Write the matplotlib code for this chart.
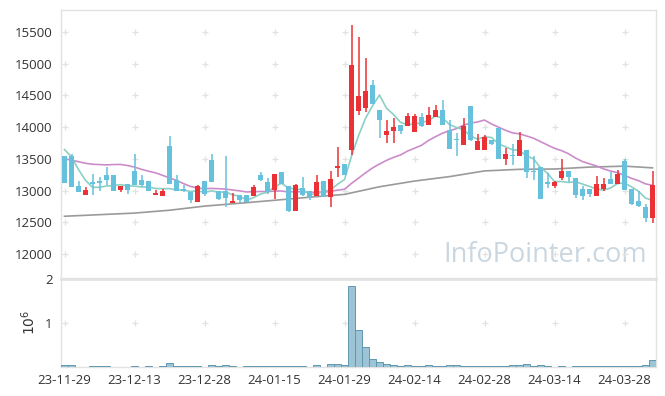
import numpy as np
import matplotlib
matplotlib.use("Agg")
import matplotlib.pyplot as plt

# ---------------- data ----------------
tick_labels = ["23-11-29", "23-12-13", "23-12-28", "24-01-15", "24-01-29",
               "24-02-14", "24-02-28", "24-03-14", "24-03-28"]
tick_pos = [0, 10, 20, 30, 40, 50, 60, 70, 80]

opens = [13541, 13541, 13079, 12932, 13131, 13147, 13252, 13252, 13016, 13110,
         13304, 13162, 13147, 12932, 12916, 13710, 13173, 13026, 12973, 12822,
         13147, 13489, 12990, 12990, 12800, 12937, 12937, 12910, 13252, 13131,
         13016, 13294, 13068, 12674, 13042, 12990, 12910, 13158, 12900, 13352,
         13426, 13647, 14251, 14304, 14662, 14267, 13883, 13935, 14041, 14025,
         13920, 14162, 14041, 14156, 14278, 13962, 13815, 13725, 14340, 13647,
         13647, 13794, 13989, 13505, 13568, 13541, 13636, 13304, 13373, 13131,
         13068, 13200, 13304, 13200, 13026, 13026, 12910, 13026, 13184, 13110,
         13473, 13026, 12831, 12743, 12569]
highs = [13541, 13570, 13147, 13058, 13263, 13220, 13374, 13252, 13079, 13110,
         13570, 13247, 13147, 13016, 13026, 13867, 13247, 13095, 12973, 13090,
         13147, 13583, 12990, 13541, 12963, 12937, 12937, 13090, 13289, 13200,
         13268, 13294, 13068, 13110, 13216, 12990, 13252, 13158, 13304, 13683,
         13426, 15618, 15427, 15093, 14750, 14267, 14120, 14140, 14041, 14225,
         14200, 14225, 14320, 14356, 14435, 14120, 13910, 14146, 14340, 13894,
         13883, 13794, 13989, 13673, 13736, 13920, 13636, 13552, 13373, 13279,
         13150, 13500, 13304, 13200, 13068, 13026, 13237, 13200, 13289, 13331,
         13500, 13026, 12990, 12790, 13304]
lows = [13115, 13052, 12973, 12932, 12937, 12990, 13095, 13000, 12973, 12953,
        13095, 13058, 12990, 12932, 12916, 13100, 12990, 12970, 12806, 12822,
        12921, 13131, 12850, 12743, 12800, 12806, 12816, 12910, 13150, 12948,
        12869, 13110, 12658, 12674, 12920, 12847, 12910, 12900, 12743, 13216,
        13252, 13568, 14198, 14235, 14372, 13831, 13752, 13752, 13894, 14025,
        13920, 14000, 14041, 14156, 14041, 13662, 13541, 13725, 13778, 13647,
        13647, 13720, 13505, 13410, 13410, 13541, 13200, 13173, 12874, 13042,
        13040, 13173, 13131, 12885, 12858, 12900, 12910, 13000, 13110, 13110,
        13016, 12780, 12742, 12500, 12490]
closes = [13115, 13052, 12973, 13005, 13110, 13115, 13162, 13000, 13079, 13016,
          13095, 13095, 12990, 12968, 13000, 13100, 12990, 12990, 12847, 13068,
          12948, 13131, 12869, 12884, 12832, 12847, 12816, 13058, 13173, 12973,
          13268, 13110, 12674, 13095, 12937, 12884, 13137, 12900, 13184, 13394,
          13252, 14987, 14498, 14567, 14372, 14109, 13946, 14004, 13946, 14183,
          14183, 14025, 14199, 14278, 14041, 13662, 13793, 14014, 13804, 13778,
          13847, 13741, 13505, 13583, 13541, 13804, 13289, 13289, 12874, 13110,
          13140, 13304, 13210, 12937, 12921, 12953, 13110, 13110, 13110, 13263,
          13016, 12795, 12763, 12569, 13095]
volumes_m = [0.04, 0.04, 0.003, 0.003, 0.015, 0.015, 0.015, 0.003, 0.003, 0.003,
             0.012, 0.003, 0.012, 0.003, 0.012, 0.078, 0.015, 0.015, 0.015, 0.015,
             0.003, 0.04, 0.015, 0.04, 0.015, 0.003, 0.015, 0.015, 0.015, 0.015,
             0.015, 0.015, 0.015, 0.015, 0.015, 0.003, 0.04, 0.003, 0.055, 0.055,
             0.035, 1.847, 0.833, 0.444, 0.169, 0.10, 0.055, 0.032, 0.012, 0.03,
             0.012, 0.012, 0.03, 0.012, 0.012, 0.03, 0.03, 0.012, 0.012, 0.012,
             0.012, 0.012, 0.012, 0.012, 0.03, 0.03, 0.055, 0.012, 0.03, 0.012,
             0.003, 0.012, 0.003, 0.012, 0.012, 0.012, 0.012, 0.012, 0.012, 0.012,
             0.012, 0.012, 0.012, 0.03, 0.153]

# moving-average values before enough history exists
ma5_head = [13647, 13531, 13331, 13162]
ma20_head = [13500, 13480, 13455, 13430, 13415, 13410, 13405, 13410, 13412, 13395,
             13370, 13335, 13305, 13280, 13240, 13200, 13160, 13110, 13065]
ma60_idx = [0, 5, 10, 15, 20, 25, 30, 35, 40, 45, 50, 55, 60, 65, 70, 75, 80, 84]
ma60_val = [12595, 12620, 12645, 12690, 12755, 12800, 12847, 12895, 12940, 13060,
            13150, 13220, 13310, 13335, 13340, 13370, 13385, 13358]

# ---------------- derived ----------------
o = np.array(opens, float); h = np.array(highs, float)
l = np.array(lows, float); c = np.array(closes, float)
n = len(c)
x = np.arange(n)

def rolling(arr, w, head):
    out = list(head)
    for i in range(w - 1, len(arr)):
        out.append(arr[i - w + 1:i + 1].mean())
    return np.array(out)

ma5 = rolling(c, 5, ma5_head)
ma20 = rolling(c, 20, ma20_head)

# ---------------- figure ----------------
W, H = 665, 396
fig = plt.figure(figsize=(W / 100, H / 100), dpi=100)
fig.patch.set_facecolor("white")
plt.rcParams['font.family'] = ['Open Sans', 'DejaVu Sans']

L, R = 61, 656
ax = fig.add_axes([L / W, 1 - 278 / H, (R - L) / W, (278 - 10) / H])
axv = fig.add_axes([L / W, 1 - 366.7 / H, (R - L) / W, (366.7 - 279.3) / H])

up_col = "#ec3136"
dn_col = "#66c1dc"
grid_col = "#e2e2e2"
spine_col = "#e2e2e2"

# MA lines
ax.plot(ma60_idx, ma60_val, color="#9a9a9a", lw=1.2, zorder=2)
ax.plot(x, ma20, color="#cc8ccb", lw=1.2, zorder=2)
ax.plot(x, ma5, color="#8ccfc4", lw=1.2, zorder=2)

# candles
bw = 0.76
for i in range(n):
    col = up_col if c[i] > o[i] else dn_col
    ax.vlines(x[i], l[i], h[i], color=col, lw=1.1, zorder=3)
    lo_b = min(o[i], c[i]); hi_b = max(o[i], c[i])
    if hi_b - lo_b < 12:
        lo_b -= 6; hi_b += 6
    ax.bar(x[i], hi_b - lo_b, bottom=lo_b, width=bw, color=col, zorder=4, linewidth=0)

yt = [12000, 12500, 13000, 13500, 14000, 14500, 15000, 15500]
ax.set_ylim(11621.6, 15846.8)
ax.set_xlim(-0.5, n - 0.5)
ax.set_yticks(yt)
ax.set_yticklabels([str(v) for v in yt])
ax.set_xticks([])
ax.tick_params(axis="y", length=0, pad=6, labelsize=9.5, labelcolor="#333333")
gx, gy = np.meshgrid(tick_pos, yt)
ax.scatter(gx.ravel(), gy.ravel(), marker="+", s=18, color=grid_col, lw=0.9, zorder=1)
for s in ax.spines.values():
    s.set_color(spine_col)
    s.set_linewidth(1.0)

ax.text(0.985, 0.035, "InfoPointer.com", transform=ax.transAxes, ha="right", va="bottom",
        fontsize=19.5, color="#cad7e0", zorder=0)

# volume
axv.bar(x, np.array(volumes_m) * 1e6, width=1.0, color="#9cc4d4", edgecolor="#5f98b0",
        linewidth=0.7, zorder=3)
axv.set_xlim(-0.5, n - 0.5)
axv.set_ylim(0, 2e6)
axv.set_yticks([1e6, 2e6])
axv.set_yticklabels(["1", "2"])
axv.set_xticks(tick_pos)
axv.set_xticklabels(tick_labels)
axv.tick_params(axis="both", length=0, labelsize=9.5, labelcolor="#333333")
axv.tick_params(axis="y", pad=6)
axv.tick_params(axis="x", pad=5)
vx, vy = np.meshgrid(tick_pos, [1e6])
axv.scatter(vx.ravel(), vy.ravel(), marker="+", s=18, color=grid_col, lw=0.9, zorder=1)
for s in axv.spines.values():
    s.set_color(spine_col)
    s.set_linewidth(1.0)
axv.spines["top"].set_linewidth(2.0)
fig.text(30 / W, 1 - 322 / H, r"$10^6$", rotation=90, ha="center", va="center",
         fontsize=10, color="#333333")

fig.savefig("out.png", dpi=100, facecolor="white")
